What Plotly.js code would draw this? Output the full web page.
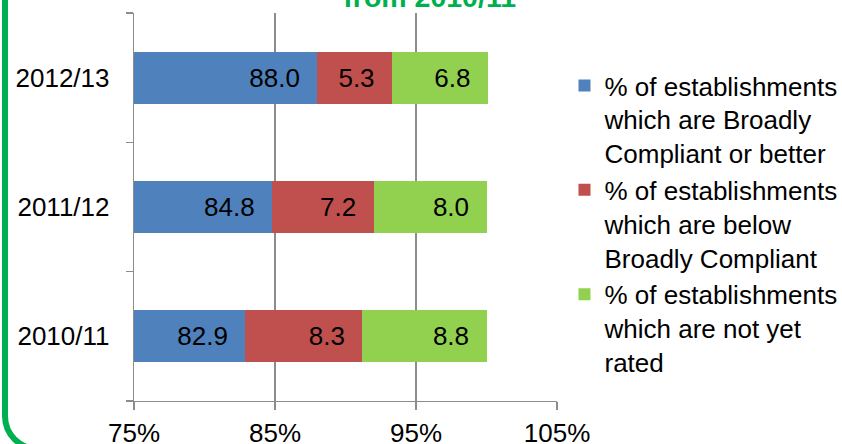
<!DOCTYPE html>
<html>
<head>
<meta charset="utf-8">
<script src="https://cdn.plot.ly/plotly-3.0.1.min.js"></script>
<style>
  html, body { margin: 0; padding: 0; width: 842px; height: 444px; overflow: hidden; background: #fff; }
  #frame { position: absolute; left: 2px; top: -100px; width: 2000px; height: 552px; box-sizing: border-box;
           border: 6px solid #00B050; border-radius: 36px; }
  #chart { position: absolute; left: 0; top: 0; width: 842px; height: 444px; }
</style>
</head>
<body>
<div id="frame"></div>
<div id="chart"></div>
<script>
const years = ['2010/11', '2011/12', '2012/13'];
const compliant = [82.9, 84.8, 88.0];
const belowCompliant = [8.3, 7.2, 5.3];
const notRated = [8.8, 8.0, 6.8];
const seriesNames = [
  '% of establishments<br>which are Broadly<br>Compliant or better',
  '% of establishments<br>which are below<br>Broadly Compliant',
  '% of establishments<br>which are not yet<br>rated'
];
const xTicks = [75, 85, 95, 105];

const colors = ['#4F81BD', '#C0504D', '#92D050'];
const seriesValues = [compliant, belowCompliant, notRated];
const FONT = 'Liberation Sans, Arial, sans-serif';

const traces = seriesValues.map((vals, i) => ({
  type: 'bar',
  orientation: 'h',
  y: years,
  x: vals,
  name: seriesNames[i],
  marker: { color: colors[i], line: { width: 0 } },
  texttemplate: '%{x:.1f}\u00a0\u00a0',
  textposition: 'inside',
  insidetextanchor: 'end',
  insidetextfont: { family: FONT, size: 26, color: '#000' },
  hoverinfo: 'skip'
}));

const layout = {
  width: 842, height: 444,
  margin: { l: 133.5, r: 285, t: 13, b: 43, pad: 0, autoexpand: false },
  paper_bgcolor: 'rgba(0,0,0,0)',
  plot_bgcolor: 'rgba(0,0,0,0)',
  barmode: 'stack',
  bargap: 0.6,
  font: { family: FONT, size: 26, color: '#000' },
  title: {
    text: 'from 2010/11',
    font: { family: FONT, size: 28.5, color: '#00B050', weight: 'bold' },
    xref: 'container', yref: 'container',
    x: 0.5103, xanchor: 'center',
    y: 1 - 6.7 / 444, yanchor: 'bottom'
  },
  xaxis: {
    range: [75, 105],
    tickvals: xTicks,
    ticktext: xTicks.map(v => v + '%'),
    showgrid: true, gridcolor: '#8c8c8c', gridwidth: 1.3,
    showline: true, linecolor: '#8c8c8c', linewidth: 1.3,
    ticks: 'outside', ticklen: 8, tickcolor: '#8c8c8c', tickwidth: 1.3,
    zeroline: false,
    automargin: false,
    tickfont: { family: FONT, size: 26, color: '#000' },
    fixedrange: true
  },
  yaxis: {
    type: 'category',
    categoryorder: 'array', categoryarray: years,
    showline: true, linecolor: '#8c8c8c', linewidth: 1.3,
    ticks: 'outside', ticklen: 7, tickcolor: '#8c8c8c', tickwidth: 1.3,
    tickson: 'boundaries',
    ticklabelstandoff: 18,
    showgrid: false, zeroline: false,
    automargin: false,
    tickfont: { family: FONT, size: 26, color: '#000' },
    fixedrange: true
  },
  showlegend: true,
  legend: {
    x: (564.5 - 133.5) / 423.5, xanchor: 'left',
    y: 1 - (62 - 13) / 388, yanchor: 'top',
    traceorder: 'normal',
    valign: 'top',
    font: { family: FONT, size: 26, color: '#000' },
    bgcolor: 'rgba(0,0,0,0)',
    itemwidth: 30,
    tracegroupgap: 0
  }
};

Plotly.newPlot('chart', traces, layout, { displayModeBar: false, staticPlot: true });
</script>
</body>
</html>
